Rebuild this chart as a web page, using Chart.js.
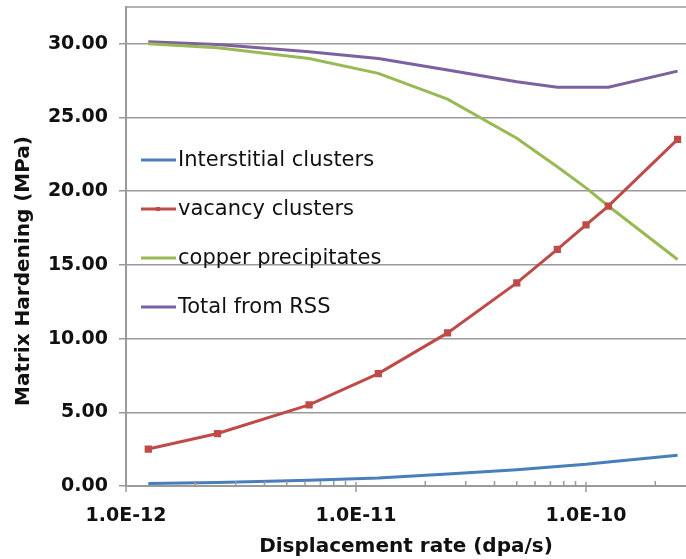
<!DOCTYPE html>
<html>
<head>
<meta charset="utf-8">
<script src="https://cdn.jsdelivr.net/npm/chart.js@4"></script>
<style>
  html, body { margin: 0; padding: 0; background: #fff; overflow: hidden; }
  canvas { display: block; }
</style>
</head>
<body>
<canvas id="myChart" width="686" height="559"></canvas>
<script>
// displacement rates (dpa/s)
const rates = [1.25e-12, 2.5e-12, 6.25e-12, 1.25e-11, 2.5e-11, 5e-11, 7.5e-11, 1e-10, 1.25e-10, 2.5e-10];

// matrix hardening (MPa)
const interstitial = [0.17, 0.24, 0.39, 0.54, 0.81, 1.11, 1.32, 1.47, 1.63, 2.08];
const vacancy = [2.51, 3.56, 5.50, 7.63, 10.39, 13.78, 16.05, 17.72, 18.99, 23.52];
const copper = [30.0, 29.73, 29.0, 28.0, 26.25, 23.6, 21.66, 20.23, 19.0, 15.37];
const totalRSS = [30.15, 29.96, 29.46, 29.0, 28.22, 27.43, 27.05, 27.05, 27.05, 28.15];

const yTicks = [0, 5, 10, 15, 20, 25, 30];
const yTitle = "Matrix Hardening (MPa)";

const gridColor = "#9a9a9a";
const boldFont = { family: "DejaVu Sans", size: 19, weight: "bold" };

function isMajor(v) {
  const l = Math.log10(v);
  return Math.abs(l - Math.round(l)) < 1e-6;
}

function toPoints(values) {
  return values.map((v, i) => ({ x: rates[i], y: v }));
}

// ticks, y title + legend drawn over the plot
const extras = {
  id: "extras",
  afterDraw(chart) {
    const ctx = chart.ctx;
    const area = chart.chartArea;
    const xs = chart.scales.x;

    ctx.save();
    ctx.strokeStyle = gridColor;
    ctx.lineWidth = 1.5;

    // top border
    ctx.beginPath();
    ctx.moveTo(area.left, area.top);
    ctx.lineTo(area.right, area.top);
    ctx.stroke();

    // x ticks: minor point inward, major cross the axis
    xs.ticks.forEach(t => {
      const m = t.value / Math.pow(10, Math.floor(Math.log10(t.value) + 1e-9));
      if (Math.abs(m - Math.round(m)) > 1e-6) return;
      const px = xs.getPixelForValue(t.value);
      if (px > area.right) return;
      ctx.beginPath();
      if (isMajor(t.value)) {
        ctx.moveTo(px, area.bottom - 4);
        ctx.lineTo(px, area.bottom + 6);
      } else {
        ctx.moveTo(px, area.bottom);
        ctx.lineTo(px, area.bottom - 5);
      }
      ctx.stroke();
    });

    // y axis title (sits a bit below the plot centre in the original)
    ctx.save();
    ctx.translate(24, 271);
    ctx.rotate(-Math.PI / 2);
    ctx.font = "bold 20px 'DejaVu Sans'";
    ctx.textAlign = "center";
    ctx.textBaseline = "middle";
    ctx.fillStyle = "#111";
    ctx.fillText(yTitle, 0, 0);
    ctx.restore();

    // legend inside the plot
    ctx.font = "21px 'DejaVu Sans'";
    ctx.textBaseline = "middle";
    ctx.textAlign = "left";
    chart.data.datasets.forEach((ds, i) => {
      const y = 160 + i * 49;
      ctx.strokeStyle = ds.borderColor;
      ctx.lineWidth = 3;
      ctx.beginPath();
      ctx.moveTo(141, y);
      ctx.lineTo(176, y);
      ctx.stroke();
      if (ds.pointRadius > 0) {
        ctx.fillStyle = ds.borderColor;
        ctx.fillRect(156, y - 2, 4, 4);
      }
      ctx.fillStyle = "#111";
      ctx.fillText(ds.label, 178, y + 1);
    });
    ctx.restore();
  }
};

const data = {
  datasets: [
    {
      label: "Interstitial clusters",
      data: toPoints(interstitial),
      borderColor: "#4a7ebb",
      backgroundColor: "#4a7ebb",
      borderWidth: 3,
      pointRadius: 0
    },
    {
      label: "vacancy clusters",
      data: toPoints(vacancy),
      borderColor: "#be4b48",
      backgroundColor: "#be4b48",
      borderWidth: 3,
      pointStyle: "rect",
      pointRadius: 3
    },
    {
      label: "copper precipitates",
      data: toPoints(copper),
      borderColor: "#98b954",
      backgroundColor: "#98b954",
      borderWidth: 3,
      pointRadius: 0
    },
    {
      label: "Total from RSS",
      data: toPoints(totalRSS),
      borderColor: "#7d60a0",
      backgroundColor: "#7d60a0",
      borderWidth: 3,
      pointRadius: 0
    }
  ]
};

const ctx = document.getElementById("myChart").getContext("2d");

const chart = new Chart(ctx, {
  type: "line",
  data: data,
  plugins: [extras],
  options: {
    responsive: false,
    animation: false,
    devicePixelRatio: 1,
    layout: { autoPadding: false, padding: { top: 7, right: 0, left: 0, bottom: 0 } },
    plugins: {
      legend: { display: false },
      tooltip: { enabled: false }
    },
    scales: {
      x: {
        type: "logarithmic",
        min: 1e-12,
        max: 2.72e-10,
        afterBuildTicks: scale => {
          const ticks = [];
          for (let e = -12; e <= -10; e++) {
            for (let m = 1; m <= 9; m++) {
              const v = m * Math.pow(10, e);
              if (v <= scale.max) ticks.push({ value: v });
            }
          }
          scale.ticks = ticks;
        },
        afterFit: scale => {
          scale.height = 73;
          scale.paddingLeft = 0;
          scale.paddingRight = 0;
        },
        grid: { drawOnChartArea: false, drawTicks: false },
        border: { color: gridColor, width: 2 },
        ticks: {
          autoSkip: false,
          maxRotation: 0,
          padding: 19,
          color: "#111",
          font: boldFont,
          callback: v => isMajor(v) ? "1.0E" + Math.round(Math.log10(v)) : ""
        },
        title: {
          display: true,
          text: "Displacement rate (dpa/s)",
          color: "#111",
          font: { family: "DejaVu Sans", size: 20, weight: "bold" },
          padding: { top: 0, bottom: 0 }
        }
      },
      y: {
        min: 0,
        max: 32.5,
        afterBuildTicks: scale => {
          scale.ticks = yTicks.map(v => ({ value: v }));
        },
        afterFit: scale => {
          scale.width = 126;
          scale.paddingTop = 0;
          scale.paddingBottom = 0;
        },
        grid: { color: gridColor, lineWidth: 1.5, tickLength: 7, tickColor: gridColor },
        border: { color: gridColor, width: 2 },
        ticks: {
          padding: 11,
          color: "#111",
          font: boldFont,
          callback: v => v.toFixed(2)
        },
        title: { display: false }
      }
    }
  }
});
</script>
</body>
</html>
